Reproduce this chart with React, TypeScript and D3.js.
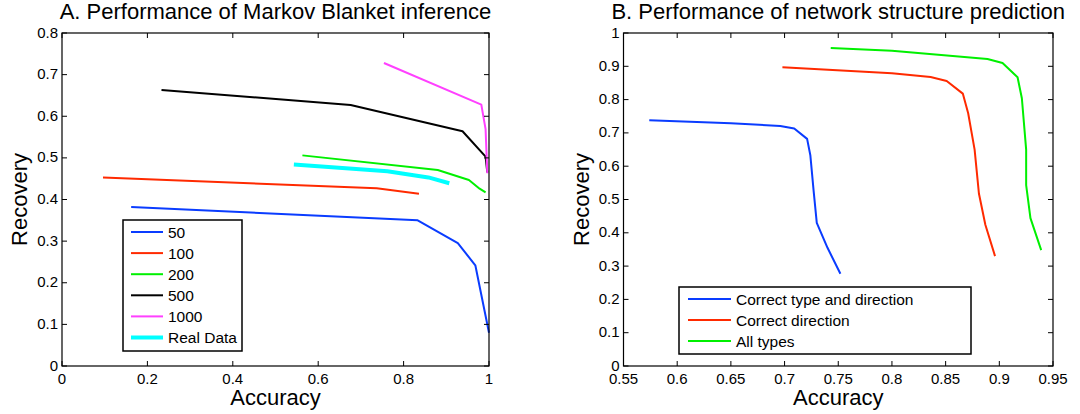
import React from "react";
import * as d3 from "d3";

// Panel A: Markov Blanket inference (accuracy, recovery)
const aSeriesNames = ["50", "100", "200", "500", "1000", "Real Data"];
const aColors = ["#0a3cff", "#ff2a00", "#00f000", "#000000", "#ff40ff", "#00ffff"];
const aWidths = [2, 2, 2, 2, 2, 4];
const aAcc50 = [0.162, 0.833, 0.927, 0.968, 1.0];
const aRec50 = [0.382, 0.350, 0.295, 0.242, 0.080];
const aAcc100 = [0.096, 0.737, 0.836];
const aRec100 = [0.453, 0.427, 0.414];
const aAcc200 = [0.563, 0.880, 0.953, 0.978, 0.992];
const aRec200 = [0.506, 0.471, 0.447, 0.426, 0.417];
const aAcc500 = [0.233, 0.676, 0.938, 0.992, 0.996];
const aRec500 = [0.663, 0.627, 0.564, 0.503, 0.465];
const aAcc1000 = [0.754, 0.982, 0.992, 0.996];
const aRec1000 = [0.728, 0.628, 0.569, 0.463];
const aAccReal = [0.543, 0.762, 0.858, 0.907];
const aRecReal = [0.484, 0.468, 0.453, 0.439];
const aXTicks = [0, 0.2, 0.4, 0.6, 0.8, 1];
const aYTicks = [0, 0.1, 0.2, 0.3, 0.4, 0.5, 0.6, 0.7, 0.8];

// Panel B: network structure prediction
const bSeriesNames = ["Correct type and direction", "Correct direction", "All types"];
const bColors = ["#0a3cff", "#ff2a00", "#00f000"];
const bAccType = [0.574, 0.650, 0.696, 0.709, 0.721, 0.724, 0.727, 0.730, 0.740, 0.752];
const bRecType = [0.738, 0.729, 0.721, 0.713, 0.682, 0.633, 0.528, 0.430, 0.355, 0.277];
const bAccDir = [0.698, 0.800, 0.836, 0.851, 0.866, 0.871, 0.877, 0.881, 0.887, 0.896];
const bRecDir = [0.897, 0.879, 0.868, 0.856, 0.818, 0.759, 0.650, 0.518, 0.424, 0.330];
const bAccAll = [0.743, 0.800, 0.889, 0.903, 0.917, 0.921, 0.925, 0.925, 0.929, 0.939];
const bRecAll = [0.955, 0.947, 0.922, 0.910, 0.867, 0.804, 0.650, 0.543, 0.444, 0.348];
const bXTicks = [0.55, 0.6, 0.65, 0.7, 0.75, 0.8, 0.85, 0.9, 0.95];
const bYTicks = [0, 0.1, 0.2, 0.3, 0.4, 0.5, 0.6, 0.7, 0.8, 0.9, 1];

const FONT = "'Liberation Sans', Arial, Helvetica, sans-serif";

type Series = { name: string; color: string; width: number; xs: number[]; ys: number[] };

function Panel(props: {
  left: number; right: number; top: number; bottom: number;
  xDomain: [number, number]; yDomain: [number, number];
  xTicks: number[]; yTicks: number[];
  title: string; series: Series[];
  legend: { x: number; y: number; w: number; h: number; lineX1: number; lineX2: number; textX: number; row0: number; rowStep: number };
}) {
  const { left, right, top, bottom, xDomain, yDomain, xTicks, yTicks, title, series, legend } = props;
  const x = d3.scaleLinear().domain(xDomain).range([left, right]);
  const y = d3.scaleLinear().domain(yDomain).range([bottom, top]);
  const line = d3.line<[number, number]>().x((d) => x(d[0])).y((d) => y(d[1]));
  const fmt = (v: number) => String(+v.toFixed(2));
  const tl = 5;
  return (
    <g fontFamily={FONT}>
      <text x={(left + right) / 2} y={19} textAnchor="middle" fontSize={22} fill="#000">{title}</text>
      {series.map((s, i) => (
        <path key={i} d={line(s.xs.map((v, j) => [v, s.ys[j]]) as [number, number][]) || ""}
          fill="none" stroke={s.color} strokeWidth={s.width} strokeLinejoin="round" />
      ))}
      {xTicks.map((t, i) => (
        <g key={"x" + i}>
          <line x1={x(t)} x2={x(t)} y1={bottom} y2={bottom - tl} stroke="#000" />
          <line x1={x(t)} x2={x(t)} y1={top} y2={top + tl} stroke="#000" />
          <text x={x(t)} y={383.5} textAnchor="middle" fontSize={15}>{fmt(t)}</text>
        </g>
      ))}
      {yTicks.map((t, i) => (
        <g key={"y" + i}>
          <line x1={left} x2={left + tl} y1={y(t)} y2={y(t)} stroke="#000" />
          <line x1={right} x2={right - tl} y1={y(t)} y2={y(t)} stroke="#000" />
          <text x={left - 4} y={y(t) + 4.5} textAnchor="end" fontSize={15}>{fmt(t)}</text>
        </g>
      ))}
      <rect x={left} y={top} width={right - left} height={bottom - top} fill="none" stroke="#000" strokeWidth={1.2} />
      <text x={(left + right) / 2} y={405} textAnchor="middle" fontSize={22}>Accuracy</text>
      <text transform={`translate(${left - 35},${(top + bottom) / 2}) rotate(-90)`} textAnchor="middle" fontSize={22}>Recovery</text>
      <rect x={legend.x} y={legend.y} width={legend.w} height={legend.h} fill="#fff" stroke="#000" strokeWidth={1.5} />
      {series.map((s, i) => (
        <g key={"l" + i}>
          <line x1={legend.lineX1} x2={legend.lineX2} y1={legend.row0 + i * legend.rowStep} y2={legend.row0 + i * legend.rowStep}
            stroke={s.color} strokeWidth={s.width} />
          <text x={legend.textX} y={legend.row0 + i * legend.rowStep + 5.5} fontSize={15.5}>{s.name}</text>
        </g>
      ))}
    </g>
  );
}

export default function App() {
  const aXs = [aAcc50, aAcc100, aAcc200, aAcc500, aAcc1000, aAccReal];
  const aYs = [aRec50, aRec100, aRec200, aRec500, aRec1000, aRecReal];
  const aSeries: Series[] = aSeriesNames.map((n, i) => ({ name: n, color: aColors[i], width: aWidths[i], xs: aXs[i], ys: aYs[i] }));
  const bXs = [bAccType, bAccDir, bAccAll];
  const bYs = [bRecType, bRecDir, bRecAll];
  const bSeries: Series[] = bSeriesNames.map((n, i) => ({ name: n, color: bColors[i], width: 2, xs: bXs[i], ys: bYs[i] }));
  return (
    <svg width={1080} height={414} style={{ position: "absolute", left: 0, top: 0, background: "#fff" }}>
      <rect width={1080} height={414} fill="#fff" />
      <Panel left={62} right={489} top={33} bottom={366} xDomain={[0, 1]} yDomain={[0, 0.8]}
        xTicks={aXTicks} yTicks={aYTicks} title="A. Performance of Markov Blanket inference" series={aSeries}
        legend={{ x: 123, y: 220, w: 119, h: 131, lineX1: 131, lineX2: 163, textX: 168, row0: 232, rowStep: 21.1 }} />
      <Panel left={623.5} right={1053} top={33} bottom={366} xDomain={[0.55, 0.95]} yDomain={[0, 1]}
        xTicks={bXTicks} yTicks={bYTicks} title="B. Performance of network structure prediction" series={bSeries}
        legend={{ x: 679, y: 287, w: 292, h: 67, lineX1: 688, lineX2: 731, textX: 736, row0: 299, rowStep: 21 }} />
    </svg>
  );
}
